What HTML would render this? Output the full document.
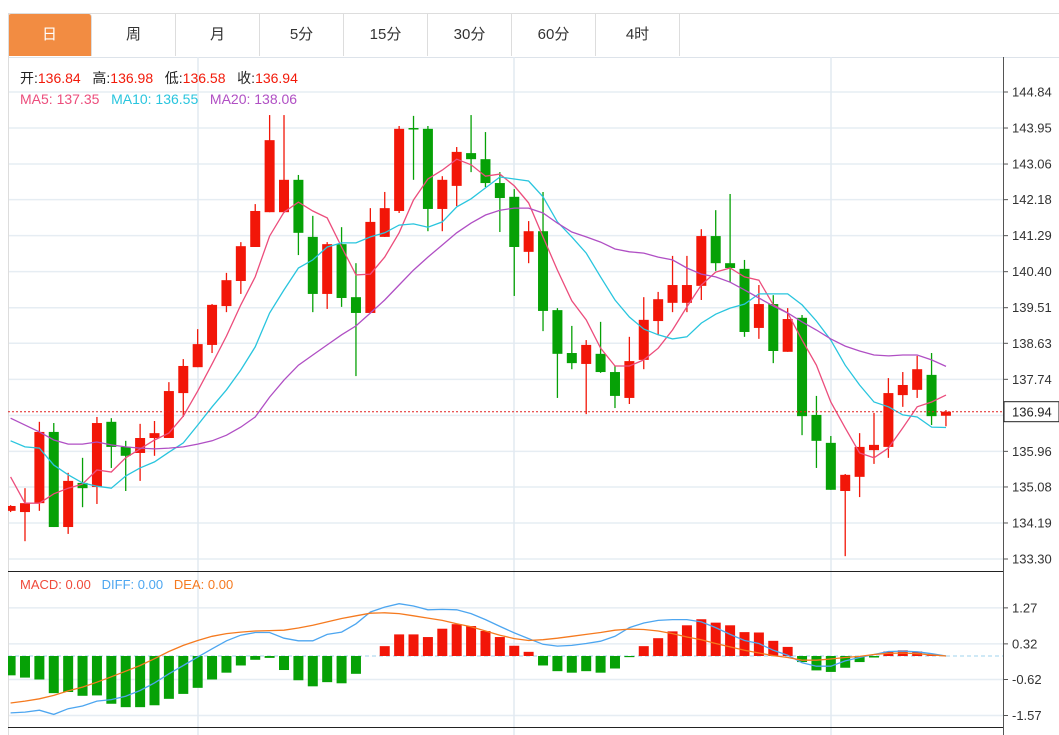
<!DOCTYPE html>
<html><head><meta charset="utf-8">
<style>
html,body{margin:0;padding:0;background:#fff;width:1059px;height:735px;overflow:hidden;font-family:"Liberation Sans","Noto Sans CJK SC",sans-serif;}
.tabs{position:absolute;left:8px;top:14px;height:43px;}
.tab{position:absolute;top:0;width:83px;height:42px;line-height:42px;text-align:center;font-size:15px;color:#333;border-right:1px solid #ddd;}
.tab.active{background:#f28c42;color:#fff;border-radius:3px 3px 0 0;}
.hdr{position:absolute;font-size:14px;white-space:nowrap;}
</style></head>
<body>
<div style="position:absolute;left:8px;top:13px;width:1051px;height:1px;background:#ddd"></div>
<div style="position:absolute;left:8px;top:57px;width:1051px;height:1px;background:#dde3ea"></div>
<div class="tabs">
  <div class="tab active" style="left:0">日</div>
  <div class="tab" style="left:84px">周</div>
  <div class="tab" style="left:168px">月</div>
  <div class="tab" style="left:252px">5分</div>
  <div class="tab" style="left:336px">15分</div>
  <div class="tab" style="left:420px">30分</div>
  <div class="tab" style="left:504px">60分</div>
  <div class="tab" style="left:588px">4时</div>
</div>
<svg id="chart" width="1059" height="735" style="position:absolute;left:0;top:0"></svg>
<div class="hdr" style="left:20px;top:68px;color:#222">开:<span style="color:#f21a0a">136.84</span>&nbsp;&nbsp; 高:<span style="color:#f21a0a">136.98</span>&nbsp;&nbsp; 低:<span style="color:#f21a0a">136.58</span>&nbsp;&nbsp; 收:<span style="color:#f21a0a">136.94</span></div>
<div class="hdr" style="left:20px;top:91px"><span style="color:#ec4d7c">MA5: 137.35</span>&nbsp;&nbsp;&nbsp;<span style="color:#29c5de">MA10: 136.55</span>&nbsp;&nbsp;&nbsp;<span style="color:#b04fc4">MA20: 138.06</span></div>
<div class="hdr" style="left:20px;top:577px;font-size:13px"><span style="color:#f04a3a">MACD: 0.00</span>&nbsp;&nbsp;&nbsp;<span style="color:#4da6f0">DIFF: 0.00</span>&nbsp;&nbsp;&nbsp;<span style="color:#f57a1f">DEA: 0.00</span></div>
<script>
const opens=[134.49,134.46,134.68,136.44,134.09,135.18,135.08,136.69,136.07,135.92,136.29,136.29,137.40,138.04,138.59,139.55,140.17,141.01,141.87,141.87,142.67,141.26,139.85,141.08,139.77,139.38,141.26,141.90,143.95,143.93,141.95,142.52,143.33,143.18,142.59,142.25,140.89,141.40,139.45,138.39,138.12,138.37,137.92,137.28,138.22,139.18,139.63,139.63,140.05,141.28,140.61,140.47,139.01,139.60,138.42,139.26,136.86,136.17,134.98,135.33,135.99,136.07,137.35,137.48,137.85,136.84];
const closes=[134.61,134.68,136.44,134.09,135.23,135.05,136.66,136.07,135.85,136.29,136.41,137.45,138.07,138.61,139.58,140.19,141.03,141.90,143.65,142.67,141.36,139.85,141.08,139.75,139.38,141.63,141.97,143.93,143.93,141.95,142.67,143.36,143.18,142.59,142.22,141.01,141.40,139.43,138.37,138.14,138.59,137.92,137.33,138.19,139.21,139.72,140.07,140.07,141.28,140.61,140.49,138.91,139.60,138.44,139.23,136.83,136.22,135.01,135.38,136.07,136.12,137.40,137.60,137.99,136.83,136.94];
const highs=[134.63,135.05,136.69,136.66,135.43,135.80,136.81,136.78,136.22,136.64,136.71,137.67,138.24,138.98,139.60,140.37,141.13,142.07,144.27,144.27,142.79,141.78,141.13,141.50,140.61,141.97,142.37,144.00,144.25,144.00,142.76,143.48,144.27,143.85,142.86,142.44,141.65,142.37,139.50,139.06,138.71,139.16,138.07,138.79,139.77,139.90,140.79,140.79,141.45,141.92,142.32,140.69,140.07,139.82,139.50,139.33,137.33,136.34,135.40,136.41,136.91,137.77,137.92,138.32,138.39,136.98];
const lows=[134.46,133.74,134.49,134.09,133.92,134.58,134.66,135.55,134.98,135.23,135.85,136.29,136.81,138.04,138.39,139.40,139.85,141.01,141.87,141.85,140.81,139.40,139.48,139.53,137.82,139.38,141.26,141.85,142.67,141.40,141.40,142.02,142.86,142.49,141.38,139.80,140.61,138.93,137.28,137.99,136.88,137.90,137.03,137.13,137.99,138.84,139.40,139.40,139.70,140.42,140.14,138.79,138.74,138.14,138.42,136.36,135.55,135.01,133.37,134.83,135.65,135.80,137.06,137.28,136.61,136.58];
const ma5=[135.33,134.68,134.68,134.91,135.05,135.15,135.50,135.45,135.80,136.02,136.24,136.41,136.83,137.45,138.12,138.81,139.58,140.27,141.28,141.87,142.12,141.90,141.73,141.01,140.32,140.34,140.76,141.36,142.17,142.69,142.91,143.18,143.04,142.76,142.81,142.52,142.10,141.26,140.44,139.68,139.21,138.51,138.07,138.07,138.22,138.51,138.96,139.53,140.07,140.39,140.49,140.27,140.19,139.58,139.38,138.71,138.09,137.18,136.54,135.92,135.80,136.04,136.54,137.06,137.18,137.35];
const ma10=[136.22,136.07,136.04,135.62,135.38,135.18,135.10,135.05,135.35,135.55,135.70,135.94,136.17,136.61,137.06,137.48,137.97,138.54,139.38,139.95,140.49,140.69,141.01,141.11,141.11,141.26,141.36,141.55,141.58,141.50,141.63,142.00,142.20,142.47,142.74,142.69,142.64,142.25,141.63,141.26,140.86,140.27,139.70,139.28,138.98,138.84,138.74,138.79,139.13,139.35,139.50,139.60,139.85,139.85,139.85,139.58,139.18,138.71,138.09,137.60,137.18,137.06,136.86,136.81,136.56,136.55];
const ma20=[136.78,136.61,136.44,136.24,136.14,136.14,136.19,136.12,136.07,136.04,136.02,136.04,136.07,136.14,136.22,136.36,136.56,136.81,137.30,137.72,138.09,138.34,138.59,138.84,139.06,139.38,139.70,140.07,140.44,140.76,141.06,141.36,141.60,141.80,141.92,141.97,141.97,141.85,141.60,141.38,141.26,141.13,140.96,140.89,140.86,140.76,140.69,140.49,140.34,140.27,140.14,139.95,139.75,139.55,139.38,139.16,138.96,138.74,138.56,138.44,138.34,138.32,138.34,138.34,138.22,138.06];
const macdHist=[-0.51,-0.57,-0.62,-0.98,-0.95,-1.05,-1.04,-1.26,-1.35,-1.35,-1.30,-1.13,-1.00,-0.84,-0.62,-0.44,-0.25,-0.10,-0.05,-0.37,-0.64,-0.80,-0.69,-0.72,-0.47,0.00,0.26,0.57,0.57,0.50,0.72,0.84,0.79,0.66,0.50,0.27,0.11,-0.25,-0.40,-0.44,-0.40,-0.44,-0.33,-0.03,0.26,0.47,0.65,0.81,0.97,0.88,0.81,0.63,0.62,0.40,0.24,-0.16,-0.38,-0.42,-0.31,-0.16,-0.04,0.12,0.15,0.12,0.02,0.00];
const diff=[-1.50,-1.48,-1.43,-1.54,-1.39,-1.32,-1.19,-1.15,-1.06,-0.91,-0.71,-0.47,-0.25,-0.03,0.19,0.40,0.55,0.62,0.62,0.47,0.40,0.40,0.57,0.63,0.85,1.16,1.29,1.38,1.32,1.22,1.23,1.22,1.12,0.96,0.78,0.61,0.46,0.31,0.26,0.28,0.33,0.39,0.52,0.75,0.87,0.94,0.96,0.96,0.90,0.75,0.57,0.41,0.33,0.15,0.02,-0.18,-0.27,-0.27,-0.13,-0.04,0.04,0.12,0.13,0.11,0.06,0.00];
const dea=[-1.24,-1.19,-1.13,-1.04,-0.92,-0.82,-0.69,-0.55,-0.40,-0.25,-0.07,0.12,0.28,0.41,0.52,0.59,0.63,0.66,0.67,0.68,0.74,0.81,0.90,0.99,1.06,1.13,1.14,1.12,1.06,1.00,0.94,0.85,0.77,0.66,0.55,0.46,0.41,0.43,0.47,0.52,0.57,0.62,0.68,0.71,0.70,0.66,0.59,0.50,0.43,0.33,0.24,0.15,0.08,0.01,-0.04,-0.11,-0.11,-0.08,-0.04,-0.01,0.04,0.07,0.08,0.06,0.03,0.00];
const priceTicks=[144.84,143.95,143.06,142.18,141.29,140.40,139.51,138.63,137.74,136.85,135.96,135.08,134.19,133.30];
const macdTicks=[1.27,0.32,-0.62,-1.57];
const lastPrice=136.94;

const NS='http://www.w3.org/2000/svg';
const svg=document.getElementById('chart');
const X0=8,X1=1003;
const xOf=i=>10.6+14.39*i;
const yP=p=>559-(p-133.30)*(467/(144.84-133.30));
const yM=v=>656-v*37.9;
function mk(tag,attrs,parent){const e=document.createElementNS(NS,tag);for(const k in attrs)e.setAttribute(k,attrs[k]);(parent||svg).appendChild(e);return e;}

const defs=mk('defs',{});
const cp=mk('clipPath',{id:'plotclip'},defs);
mk('rect',{x:X0,y:57,width:X1-X0,height:678},cp);

// grid
const grid=mk('g',{});


priceTicks.forEach(t=>{const l=mk('line',{x1:X0,x2:X1,y1:yP(t),y2:yP(t),stroke:'#e6edf3','stroke-width':1.5},grid);

});
macdTicks.forEach(t=>{const l=mk('line',{x1:X0,x2:X1,y1:yM(t),y2:yM(t),stroke:'#e6edf3','stroke-width':1.5},grid);

});
[198,514,831].forEach(x=>{const l=mk('line',{x1:x,x2:x,y1:57,y2:735,stroke:'#e2eaf1','stroke-width':1.5},grid);

});

// borders
const b1=mk('line',{x1:8.5,x2:8.5,y1:14,y2:735,stroke:'#ddd'});


const b2=mk('line',{x1:1003.5,x2:1003.5,y1:57,y2:735,stroke:'#555'});


const b3=mk('line',{x1:8,x2:1003,y1:571.5,y2:571.5,stroke:'#222'});


const b4=mk('line',{x1:8,x2:1003,y1:727.5,y2:727.5,stroke:'#222'});



// price axis labels
priceTicks.forEach(t=>{
  const tk=mk('line',{x1:1003,x2:1008,y1:yP(t),y2:yP(t),stroke:'#555'});
  
  
  const tx=mk('text',{x:1012,y:yP(t)+4.5,'font-size':13,fill:'#333','font-family':'Liberation Sans, sans-serif'});
  tx.textContent=t.toFixed(2);
  
  
});
macdTicks.forEach(t=>{
  const tk=mk('line',{x1:1003,x2:1008,y1:yM(t),y2:yM(t),stroke:'#555'});
  
  
  const tx=mk('text',{x:1012,y:yM(t)+4.5,'font-size':13,fill:'#333','font-family':'Liberation Sans, sans-serif'});
  tx.textContent=t.toFixed(2);
  
  
});

const plot=mk('g',{'clip-path':'url(#plotclip)'});



// MACD zero line
const z=mk('line',{x1:X0,x2:X1,y1:yM(0),y2:yM(0),stroke:'#9fd3ee','stroke-dasharray':'4,3'},plot);



// MACD histogram
macdHist.forEach((v,i)=>{
  const y0=yM(0),y1=yM(v);
  const r=mk('rect',{x:xOf(i)-5,y:Math.min(y0,y1),width:10,height:Math.max(Math.abs(y1-y0),0.01),fill:v>=0?'#f21608':'#06a106'},plot);
  
  
});
function line(arr,yf,color,name){
  const d=arr.map((v,i)=>(i?'L':'M')+xOf(i).toFixed(1)+','+yf(v).toFixed(1)).join(' ');
  const p=mk('path',{d:d,fill:'none',stroke:color,'stroke-width':1.3},plot);
  
  
}
line(diff,yM,'#4da6f0','diff-line');
line(dea,yM,'#f57a1f','dea-line');

// candles
opens.forEach((o,i)=>{
  const c=closes[i],up=c>=o,col=up?'#f21608':'#06a106',x=xOf(i);
  const g=mk('g',{},plot);
  
  
  mk('line',{x1:x,x2:x,y1:yP(highs[i]),y2:yP(lows[i]),stroke:col,'stroke-width':1.3},g);
  const top=yP(Math.max(o,c)),bot=yP(Math.min(o,c));
  mk('rect',{x:x-5,y:top,width:10,height:Math.max(bot-top,1.5),fill:col},g);
});
line(ma5,yP,'#ec4d7c','ma5-line');
line(ma10,yP,'#29c5de','ma10-line');
line(ma20,yP,'#b04fc4','ma20-line');

// last price line
const lp=mk('line',{x1:X0,x2:X1,y1:yP(lastPrice),y2:yP(lastPrice),stroke:'#e02020','stroke-dasharray':'2,2'},plot);


const lg=mk('g',{});


mk('rect',{x:1004,y:yP(lastPrice)-10,width:55,height:20,fill:'#fff',stroke:'#222'},lg);
const lt=mk('text',{x:1012,y:yP(lastPrice)+5,'font-size':13,fill:'#222','font-family':'Liberation Sans, sans-serif'},lg);
lt.textContent=lastPrice.toFixed(2);
</script>
</body></html>
